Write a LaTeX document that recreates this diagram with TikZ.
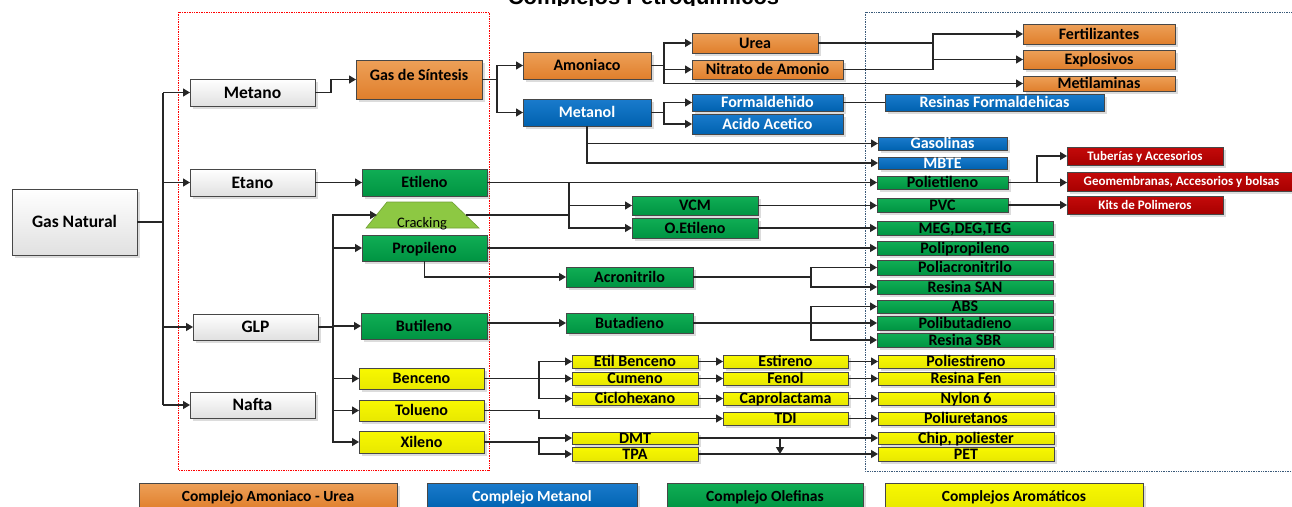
\documentclass[tikz,border=0pt]{standalone}
\usepackage{fontspec}
\setmainfont{Carlito}
\newfontfamily\titlefont{Liberation Sans}
\usetikzlibrary{arrows.meta,shadows,calc}
\definecolor{orgT}{HTML}{EDA058}
\definecolor{orgB}{HTML}{E07F2C}
\definecolor{bluT}{HTML}{1A7BCC}
\definecolor{bluB}{HTML}{0062B0}
\definecolor{grnT}{HTML}{10AE55}
\definecolor{grnB}{HTML}{009442}
\definecolor{ylwT}{HTML}{F8F800}
\definecolor{ylwB}{HTML}{E8E800}
\definecolor{redT}{HTML}{C40A0A}
\definecolor{redB}{HTML}{A80000}
\definecolor{crk}{HTML}{8DC843}
\definecolor{frameblue}{HTML}{3A5A7A}
\newcommand\mybox[7]{\node[#2, minimum width={(#5-#3)*1pt}, minimum height={(#6-#4)*1pt}] (#1) at ({(#3+#5)/2},{(#4+#6)/2}) {#7};}
\tikzset{
  bx/.style={draw=black!72, line width=1pt, inner sep=0pt, outer sep=0pt, text=black,
    font=\bfseries\fontsize{16}{16}\selectfont, text height=10.4pt, text depth=0pt,
    drop shadow={shadow xshift=2.5pt, shadow yshift=-2.5pt, fill=black!45, opacity=0.3}},
  gbox/.style={bx, top color=white, bottom color=black!12, font=\bfseries\fontsize{17.5}{17.5}\selectfont, text height=11.3pt},
  obox/.style={bx, top color=orgT, bottom color=orgB},
  bbox/.style={bx, top color=bluT, bottom color=bluB, text=white},
  grbox/.style={bx, top color=grnT, bottom color=grnB},
  ybox/.style={bx, top color=ylwT, bottom color=ylwB},
  rbox/.style={bx, top color=redT, bottom color=redB, text=white, font=\bfseries\fontsize{13}{13}\selectfont, text height=8.4pt},
  lgd/.style={font=\bfseries\fontsize{15.5}{15.5}\selectfont, text height=10pt},
  ln/.style={draw=black!85, line width=1.2pt},
  arr/.style={ln, -{Triangle[length=7pt,width=8pt]}},
  thk/.style={ln, line width=1.8pt},
}
\begin{document}
\begin{tikzpicture}[x=1pt,y=-1pt]
\useasboundingbox (0,0) rectangle (1292,506);
\fill[white] (0,0) rectangle (1292,506);
% title (cut off at top, as in the reference)
\begin{scope}
\clip (0,-40) rectangle (1292,5.6);
\node[font=\titlefont\bfseries\fontsize{22}{22}\selectfont, anchor=base] (title) at (643.5,5) {Complejos Petroquímicos};
\end{scope}
% frames
\draw[red, densely dotted, line width=0.7pt] (178,12) rectangle (489,470);
\draw[frameblue, densely dotted, line width=0.7pt] (865,12) rectangle (1300,471);
% nodes
\mybox{gn}{gbox}{12}{189}{137}{255}{Gas Natural}
\mybox{met}{gbox}{190}{79}{315}{106}{Metano}
\mybox{eta}{gbox}{190}{169}{315}{196}{Etano}
\mybox{glp}{gbox}{193}{314}{318}{340}{GLP}
\mybox{naf}{gbox}{190}{392}{315}{418}{Nafta}
\mybox{gds}{obox}{356}{60}{482}{99}{\raisebox{4.5pt}{Gas de Síntesis}}
\mybox{amo}{obox}{523}{52}{651}{79}{Amoniaco}
\mybox{mtl}{bbox}{523}{99}{651}{126}{Metanol}
\mybox{urea}{obox}{692}{33}{818}{53}{Urea}
\mybox{nit}{obox}{692}{60}{843}{79}{Nitrato de Amonio}
\mybox{form}{bbox}{692}{94}{843}{111}{Formaldehido}
\mybox{acid}{bbox}{692}{114}{843}{134}{Acido Acetico}
\mybox{fert}{obox}{1023}{24}{1175}{44}{Fertilizantes}
\mybox{expl}{obox}{1023}{50}{1175}{69}{Explosivos}
\mybox{mtla}{obox}{1023}{76}{1175}{91}{Metilaminas}
\mybox{resf}{bbox}{885}{94}{1104}{111}{Resinas Formaldehicas}
\mybox{gas}{bbox}{878}{137}{1007}{150}{Gasolinas}
\mybox{mbte}{bbox}{878}{157}{1007}{169}{MBTE}
\mybox{tub}{rbox}{1067}{147}{1223}{165}{Tuberías y Accesorios}
\mybox{pe}{grbox}{877}{176}{1008}{189}{Polietileno}
\mybox{geo}{rbox}{1067}{172}{1296}{191}{Geomembranas, Accesorios y bolsas}
\mybox{kits}{rbox}{1067}{196}{1223}{214}{Kits de Polimeros}
\mybox{etil}{grbox}{362}{169}{487}{196}{Etileno}
\mybox{prop}{grbox}{362}{235}{487}{261}{Propileno}
\mybox{but}{grbox}{361}{313}{487}{339}{Butileno}
\mybox{benc}{ybox}{359}{368}{484}{389}{Benceno}
\mybox{tol}{ybox}{359}{400}{484}{421}{Tolueno}
\mybox{xil}{ybox}{359}{431}{484}{453}{Xileno}
\mybox{vcm}{grbox}{632}{196}{758}{215}{VCM}
\mybox{ox}{grbox}{632}{218}{758}{238}{O.Etileno}
\mybox{acr}{grbox}{566}{267}{693}{287}{Acronitrilo}
\mybox{butd}{grbox}{566}{313}{693}{333}{Butadieno}
\mybox{pvc}{grbox}{877}{198}{1008}{212}{PVC}
\mybox{meg}{grbox}{877}{221}{1053}{235}{MEG,DEG,TEG}
\mybox{pp}{grbox}{877}{241}{1053}{255}{Polipropileno}
\mybox{pacr}{grbox}{877}{260}{1053}{275}{Poliacronitrilo}
\mybox{san}{grbox}{877}{280}{1053}{294}{Resina SAN}
\mybox{abs}{grbox}{877}{300}{1053}{313}{ABS}
\mybox{pbd}{grbox}{877}{316}{1053}{330}{Polibutadieno}
\mybox{sbr}{grbox}{877}{333}{1053}{347}{Resina SBR}
\mybox{pest}{ybox}{878}{355}{1054}{368}{Poliestireno}
\mybox{rfen}{ybox}{878}{372}{1054}{385}{Resina Fen}
\mybox{nyl}{ybox}{878}{392}{1054}{405}{Nylon 6}
\mybox{pur}{ybox}{878}{412}{1054}{425}{Poliuretanos}
\mybox{chip}{ybox}{878}{432}{1054}{444}{Chip, poliester}
\mybox{pet}{ybox}{878}{447}{1054}{461}{PET}
\mybox{etb}{ybox}{572}{355}{698}{368}{Etil Benceno}
\mybox{cum}{ybox}{572}{372}{698}{385}{Cumeno}
\mybox{cic}{ybox}{572}{392}{698}{405}{Ciclohexano}
\mybox{dmt}{ybox}{572}{432}{698}{444}{DMT}
\mybox{tpa}{ybox}{572}{447}{698}{461}{TPA}
\mybox{est}{ybox}{723}{355}{848}{368}{Estireno}
\mybox{fen}{ybox}{723}{372}{848}{385}{Fenol}
\mybox{cap}{ybox}{723}{392}{848}{405}{Caprolactama}
\mybox{tdi}{ybox}{723}{412}{848}{425}{TDI}
% legend
\mybox{la}{obox,lgd}{139}{483}{397}{509}{Complejo Amoniaco - Urea}
\mybox{lb}{bbox,lgd}{427}{483}{637}{509}{Complejo Metanol}
\mybox{lc}{grbox,lgd}{667}{483}{863}{509}{Complejo Olefinas}
\mybox{ld}{ybox,lgd}{885}{483}{1143}{509}{Complejos Aromáticos}
% cracking
\draw[fill=crk, draw=crk!80!black, line width=0.6pt] (366,228) -- (387,202) -- (452,202) -- (479,228) -- cycle;
\node[font=\fontsize{14.5}{14.5}\selectfont, anchor=base, inner sep=0pt] (crack) at (422,227) {Cracking};
\coordinate (crackin) at (377,215);
\coordinate (crackout) at (466,215);
% junction coordinates
\coordinate (jT) at (163,0);
\coordinate (j1) at (331,0);
\coordinate (j2) at (497,0);
\coordinate (j3) at (664,0);
\coordinate (j4) at (933,0);
\coordinate (j6) at (569,0);
\coordinate (j7) at (1037,0);
\coordinate (j8) at (333,0);
\coordinate (j9) at (811,0);
\coordinate (j10) at (539,0);
\coordinate (j11) at (780,0);
% connectors: gas natural
\draw[ln] (gn.east) -- (gn.east -| jT);
\draw[ln] (met.west -| jT) -- (naf.west -| jT);
\draw[arr] (met.west -| jT) -- (met.west);
\draw[arr] (eta.west -| jT) -- (eta.west);
\draw[arr] (glp.west -| jT) -- (glp.west);
\draw[arr] (naf.west -| jT) -- (naf.west);
% metano
\draw[arr] (met.east) -- (met.east -| j1) |- (gds.west);
\draw[ln] (gds.east) -- (gds.east -| j2);
\draw[arr] (gds.east -| j2) |- (amo.west);
\draw[arr] (gds.east -| j2) |- (mtl.west);
% amoniaco
\draw[thk] (amo.east) -- (amo.east -| j3);
\draw[arr] (amo.east -| j3) |- (urea.west);
\draw[arr] (amo.east -| j3) |- (nit.west);
\draw[arr] (amo.east -| j3) |- (mtla.west);
\draw[ln] (urea.east) -- (urea.east -| j4);
\draw[ln] (nit.east) -- (nit.east -| j4);
\draw[ln] (urea.east -| j4) -- (nit.east -| j4);
\draw[arr] (urea.east -| j4) |- (fert.west);
\draw[arr] (nit.east -| j4) |- (expl.west);
% metanol
\draw[thk] (mtl.east) -- (mtl.east -| j3);
\draw[arr] (mtl.east -| j3) |- (form.west);
\draw[arr] (mtl.east -| j3) |- (acid.west);
\draw[ln] (form.east) -- (resf.west);
\draw[arr] (mtl.south) |- (gas.west);
\draw[arr] (mtl.south) |- (mbte.west);
% etano / etileno
\draw[arr] (eta.east) -- (etil.west);
\draw[thk] (etil.east) -- (etil.east -| j6);
\draw[arr] (etil.east) -- (pe.west);
\draw[arr] (etil.east -| j6) |- (vcm.west);
\draw[arr] (etil.east -| j6) |- (ox.west);
\draw[ln] (crackout) -- (crackout -| j6);
\draw[arr] (vcm.east) -- (vcm.east -| pvc.west);
\draw[arr] (ox.east) -- (meg.west);
\draw[ln] (pe.east) -- (pe.east -| j7);
\draw[arr] (pe.east -| j7) |- (tub.west);
\draw[arr] (pe.east) -- (pe.east -| geo.west);
\draw[arr] (pvc.east) -- (pvc.east -| kits.west);
% GLP
\draw[ln] (glp.east) -- (glp.east -| j8);
\draw[arr] (glp.east -| j8) |- (crackin);
\draw[arr] (glp.east -| j8) |- (prop.west);
\draw[arr] (glp.east -| j8) |- (but.west);
\draw[arr] (glp.east -| j8) |- (benc.west);
\draw[arr] (glp.east -| j8) |- (tol.west);
\draw[arr] (glp.east -| j8) |- (xil.west);
% propileno
\draw[arr] (prop.east) -- (pp.west);
\draw[arr] (prop.south) |- (acr.west);
\draw[thk] (acr.east) -- (acr.east -| j9);
\draw[arr] (acr.east -| j9) |- (pacr.west);
\draw[arr] (acr.east -| j9) |- (san.west);
% butileno
\draw[arr] (butd.west -| but.east) -- (butd.west);
\draw[thk] (butd.east) -- (butd.east -| j9);
\draw[arr] (butd.east -| j9) |- (abs.west);
\draw[arr] (butd.east -| j9) |- (pbd.west);
\draw[arr] (butd.east -| j9) |- (sbr.west);
% aromaticos
\draw[thk] (benc.east) -- (benc.east -| j10);
\draw[arr] (benc.east -| j10) |- (etb.west);
\draw[arr] (benc.east -| j10) -- (cum.west);
\draw[arr] (benc.east -| j10) |- (cic.west);
\draw[arr] (tol.east) -- (tol.east -| j10) |- (tdi.west);
\draw[thk] (xil.east) -- (xil.east -| j10);
\draw[arr] (xil.east -| j10) |- (dmt.west);
\draw[arr] (xil.east -| j10) |- (tpa.west);
\draw[arr] (etb.east) -- (est.west);
\draw[arr] (cum.east) -- (fen.west);
\draw[arr] (cic.east) -- (cap.west);
\draw[arr] (est.east) -- (pest.west);
\draw[arr] (fen.east) -- (rfen.west);
\draw[arr] (cap.east) -- (nyl.west);
\draw[arr] (tdi.east) -- (pur.west);
\draw[arr] (dmt.east) -- (chip.west);
\draw[arr] (tpa.east) -- (pet.west);
\draw[arr] (dmt.east -| j11) -- (tpa.east -| j11);
\end{tikzpicture}
\end{document}
